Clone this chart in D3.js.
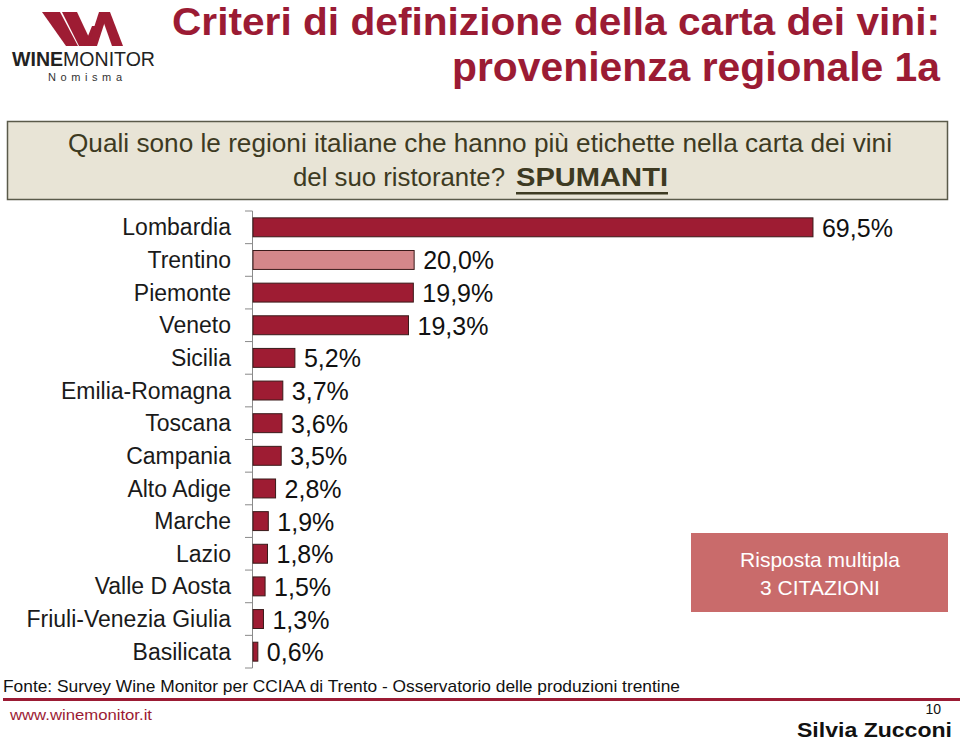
<!DOCTYPE html>
<html><head><meta charset="utf-8">
<script src="https://cdn.jsdelivr.net/npm/d3@7"></script>
<style>body{margin:0;background:#fff;}svg{display:block;font-family:"Liberation Sans",Arial,sans-serif;}</style>
</head><body>
<svg id="c" width="960" height="742"></svg>
<script>
const categories = ["Lombardia","Trentino","Piemonte","Veneto","Sicilia","Emilia-Romagna","Toscana","Campania","Alto Adige","Marche","Lazio","Valle D Aosta","Friuli-Venezia Giulia","Basilicata"];
const values = [69.5,20.0,19.9,19.3,5.2,3.7,3.6,3.5,2.8,1.9,1.8,1.5,1.3,0.6];
const valueLabels = ["69,5%","20,0%","19,9%","19,3%","5,2%","3,7%","3,6%","3,5%","2,8%","1,9%","1,8%","1,5%","1,3%","0,6%"];
const highlight = ["Trentino"];

const svg = d3.select("#c");
const RED = "#9e1c33", PINK = "#d4878a";

// Logo
const logo = svg.append("g");
const strokes = [
  [[42,12],[60,12],[78,46],[66,46]],
  [[62,12],[77,12],[93,46],[79,46]],
  [[84,46],[94,46],[100,26],[92,26]],
  [[88,46],[97,46],[108,12],[99,12]],
  [[100,12],[110,12],[123,46],[112,46]]
];
strokes.forEach(p => logo.append("polygon").attr("points", p.map(d=>d.join(",")).join(" ")).attr("fill", RED));
logo.append("text").attr("x",12).attr("y",66).attr("font-size",21).attr("fill","#222")
  .attr("textLength",143).attr("lengthAdjust","spacingAndGlyphs")
  .html('<tspan font-weight="bold">WINE</tspan><tspan font-weight="normal">MONITOR</tspan>');
logo.append("text").attr("x",48).attr("y",81).attr("font-size",11).attr("fill","#333")
  .attr("textLength",74).attr("lengthAdjust","spacing").text("Nomisma");

// Title
svg.append("text").attr("x",940).attr("y",35).attr("text-anchor","end").attr("font-size",38).attr("font-weight","bold")
  .attr("fill","#9b1b34").attr("textLength",768).attr("lengthAdjust","spacingAndGlyphs")
  .text("Criteri di definizione della carta dei vini:");
svg.append("text").attr("x",940).attr("y",81).attr("text-anchor","end").attr("font-size",41).attr("font-weight","bold")
  .attr("fill","#9b1b34").attr("textLength",488).attr("lengthAdjust","spacingAndGlyphs")
  .text("provenienza regionale 1a");

// Question box
svg.append("rect").attr("x",7.5).attr("y",121.5).attr("width",940).attr("height",78)
  .attr("fill","#e8e4d6").attr("stroke","#5a5a4a").attr("stroke-width",1.5);
svg.append("text").attr("x",68).attr("y",152).attr("font-size",26).attr("fill","#3d3a22")
  .attr("textLength",824).attr("lengthAdjust","spacingAndGlyphs")
  .text("Quali sono le regioni italiane che hanno più etichette nella carta dei vini");
svg.append("text").attr("x",293).attr("y",186).attr("font-size",26).attr("fill","#3d3a22")
  .attr("textLength",212).attr("lengthAdjust","spacingAndGlyphs").text("del suo ristorante?");
svg.append("text").attr("x",516).attr("y",186).attr("font-size",26).attr("font-weight","bold").attr("fill","#3d3a22")
  .attr("textLength",152).attr("lengthAdjust","spacingAndGlyphs").text("SPUMANTI");
svg.append("rect").attr("x",516).attr("y",192).attr("width",152).attr("height",2.5).attr("fill","#3d3a22");

// Scales
const x = d3.scaleLinear().domain([0,70]).range([253,817]);
const y = d3.scaleBand().domain(categories).range([211,668]).paddingInner(0.42).paddingOuter(0.21);
const gap = (y.step()-y.bandwidth())/2;

// Axis
const tickYs = categories.map(c => y(c)-gap).concat([y(categories[categories.length-1])+y.bandwidth()+gap]);
svg.append("line").attr("x1",252.5).attr("x2",252.5).attr("y1",tickYs[0]).attr("y2",tickYs[tickYs.length-1]).attr("stroke","#8a8a8a");
svg.selectAll(".tk").data(tickYs).join("line").attr("x1",245).attr("x2",252.5)
  .attr("y1",d=>d).attr("y2",d=>d).attr("stroke","#8a8a8a");

// Category labels
svg.selectAll(".cat").data(categories).join("text").attr("x",231).attr("y",d=>y(d)+y.bandwidth()/2)
  .attr("dy","0.35em").attr("text-anchor","end").attr("font-size",23).attr("fill","#1a1a1a").text(d=>d);

// Bars
svg.selectAll(".bar").data(categories).join("rect")
  .attr("x",x(0)).attr("y",d=>y(d)).attr("height",y.bandwidth())
  .attr("width",(d,i)=>x(values[i])-x(0))
  .attr("fill",d=>highlight.includes(d)?PINK:RED).attr("stroke","#3a1a1a").attr("stroke-width",1);

// Value labels
svg.selectAll(".val").data(categories).join("text")
  .attr("x",(d,i)=>x(values[i])+9).attr("y",d=>y(d)+y.bandwidth()/2).attr("dy","0.38em")
  .attr("font-size",25).attr("fill","#111").text((d,i)=>valueLabels[i]);

// Note box
svg.append("rect").attr("x",691).attr("y",533).attr("width",257).attr("height",79).attr("fill","#c96b6b");
svg.append("text").attr("x",820).attr("y",567).attr("text-anchor","middle").attr("font-size",21).attr("fill","#fff").text("Risposta multipla");
svg.append("text").attr("x",820).attr("y",595).attr("text-anchor","middle").attr("font-size",21).attr("fill","#fff").text("3 CITAZIONI");

// Footer
svg.append("text").attr("x",3).attr("y",692).attr("font-size",17).attr("fill","#111")
  .attr("textLength",677).attr("lengthAdjust","spacingAndGlyphs")
  .text("Fonte: Survey Wine Monitor per CCIAA di Trento - Osservatorio delle produzioni trentine");
svg.append("rect").attr("x",3).attr("y",698).attr("width",957).attr("height",3).attr("fill","#9b1b34");
svg.append("text").attr("x",10).attr("y",720).attr("font-size",15).attr("fill","#9b1b34")
  .attr("textLength",142).attr("lengthAdjust","spacingAndGlyphs").text("www.winemonitor.it");
svg.append("text").attr("x",941).attr("y",714).attr("text-anchor","end").attr("font-size",14).attr("fill","#111").text("10");
svg.append("text").attr("x",952).attr("y",737).attr("text-anchor","end").attr("font-size",21).attr("font-weight","bold").attr("fill","#111")
  .attr("textLength",155).attr("lengthAdjust","spacingAndGlyphs").text("Silvia Zucconi");
</script>
</body></html>
